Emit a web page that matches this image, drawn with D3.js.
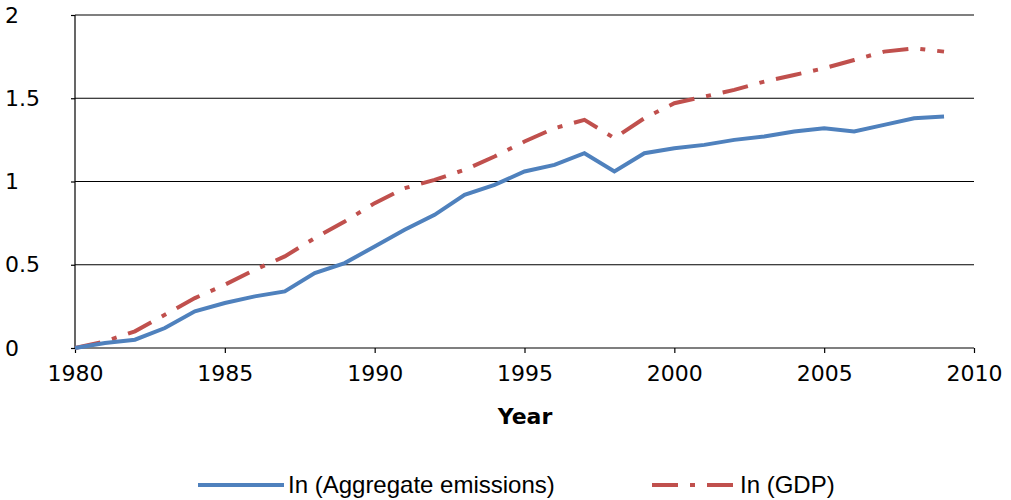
<!DOCTYPE html>
<html><head><meta charset="utf-8">
<script src="https://cdn.jsdelivr.net/npm/d3@7"></script>
<style>body{margin:0;background:#fff}</style>
</head><body><svg id="c" width="1011" height="500"></svg>
<script>
var years = d3.range(1980, 2010);
var emissions = [0,0.03,0.05,0.12,0.22,0.27,0.31,0.34,0.45,0.51,0.61,0.71,0.80,0.92,0.98,1.06,1.10,1.17,1.06,1.17,1.20,1.22,1.25,1.27,1.30,1.32,1.30,1.34,1.38,1.39];
var gdp = [0,0.04,0.10,0.20,0.30,0.38,0.47,0.55,0.66,0.76,0.87,0.96,1.01,1.07,1.15,1.24,1.32,1.37,1.26,1.38,1.47,1.51,1.55,1.60,1.64,1.68,1.73,1.78,1.80,1.78];
var xTicks = [1980,1985,1990,1995,2000,2005,2010];
var yTicks = [0,0.5,1,1.5,2];

var svg = d3.select("#c");
var x = d3.scaleLinear().domain([1980,2010]).range([75,974]);
var y = d3.scaleLinear().domain([0,2]).range([348,15]);

// gridlines
svg.append("g").selectAll("line").data(yTicks.slice(1)).enter().append("line")
  .attr("x1",75).attr("x2",974).attr("y1",y).attr("y2",y)
  .attr("stroke","#000").attr("stroke-width",1.2);

var yAxis = svg.append("g").attr("transform","translate(75,0)")
  .call(d3.axisLeft(y).tickValues(yTicks).tickFormat(d3.format("")).tickSize(4));
var xAxis = svg.append("g").attr("transform","translate(0,348)")
  .call(d3.axisBottom(x).tickValues(xTicks).tickFormat(d3.format("d")).tickSize(5).tickPadding(12));
[yAxis,xAxis].forEach(function(a){
  a.selectAll("path,line").attr("stroke","#000").attr("stroke-width",1.2);
  a.selectAll("text").attr("font-family","DejaVu Sans").attr("font-size",22).attr("fill","#000");
});
yAxis.selectAll("text").attr("text-anchor","start").attr("x",-70);
xAxis.select(".domain").attr("d","M75,0H974");
yAxis.select(".domain").attr("d","M0,15V348");

svg.append("text").attr("x",525).attr("y",424).attr("text-anchor","middle")
  .attr("font-family","DejaVu Sans").attr("font-weight","bold").attr("font-size",22).text("Year");

var line = d3.line().x(function(d,i){return x(years[i]);}).y(function(d){return y(d);});
svg.append("path").datum(gdp).attr("d",line).attr("fill","none")
  .attr("stroke","#c0504d").attr("stroke-width",4).attr("stroke-dasharray","26,12,5,12");
svg.append("path").datum(emissions).attr("d",line).attr("fill","none")
  .attr("stroke","#4f81bd").attr("stroke-width",4);

// legend
var lg = svg.append("g");
lg.append("line").attr("x1",198).attr("x2",284).attr("y1",485).attr("y2",485)
  .attr("stroke","#4f81bd").attr("stroke-width",4);
lg.append("text").attr("x",288).attr("y",493).attr("font-family","Liberation Sans").attr("font-size",24).text("In (Aggregate emissions)");
lg.append("line").attr("x1",652).attr("x2",736).attr("y1",485).attr("y2",485)
  .attr("stroke","#c0504d").attr("stroke-width",4).attr("stroke-dasharray","26,12,5,12");
lg.append("text").attr("x",740).attr("y",493).attr("font-family","Liberation Sans").attr("font-size",24).text("In (GDP)");
</script></body></html>
